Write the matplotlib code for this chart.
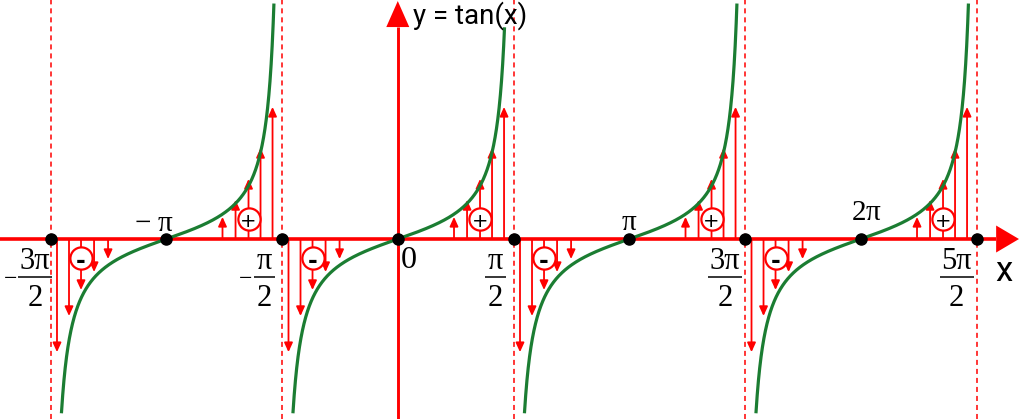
import numpy as np
import matplotlib.pyplot as plt

plt.rcParams['mathtext.fontset'] = 'custom'
plt.rcParams['mathtext.rm'] = 'Liberation Serif'
plt.rcParams['mathtext.it'] = 'Liberation Serif:italic'
plt.rcParams['mathtext.bf'] = 'Liberation Serif:bold'

# data (x in multiples of pi, arrow offsets in rad from the branch centre)
asymptotes = [-1.5, -0.5, 0.5, 1.5, 2.5]
zeros = [-1, 0, 1, 2]
branch_tops = [9.0, 8.15, 9.0, 9.0]
curve_bottom = -6.7
pos_offsets = [0.763, 0.940, 1.116, 1.279, 1.442]
pos_heights = [0.85, 1.50, 2.31, 3.50, 5.08]
neg_offsets = [-1.483, -1.320, -1.157, -0.980, -0.790]
neg_heights = [-4.35, -2.96, -1.96, -1.27, -0.77]
frac_signs = ['−', '−', '', '', '']
frac_nums = ['3π', 'π', 'π', '3π', '5π']
frac_dens = ['2', '2', '2', '2', '2']
zero_labels = [r'$-\ \mathrm{π}$', r'$0$', r'$\mathrm{π}$', r'$2\mathrm{π}$']

RED = '#ff0000'
GREEN = '#1b7d32'
SERIF = 'Liberation Serif'

fig = plt.figure(figsize=(10.24, 4.19), dpi=100)
ax = fig.add_axes([0, 0, 1, 1])
xmin, xmax = -5.398, 8.498
ax.set_xlim(xmin, xmax)
ax.set_ylim(-6.92, 9.19)
ax.axis('off')

px = 1 / 73.69   # one pixel in x data units
py = 1 / 26.0    # one pixel in y data units

# asymptotes
for a in asymptotes:
    ax.axvline(a * np.pi, color=RED, lw=1.1, ls=(0, (3.3, 2.6)), zorder=1)

# axes with arrow heads
ax.plot([xmin, 8.12], [0, 0], color=RED, lw=2.6, solid_capstyle='butt', zorder=3)
ax.fill([8.43, 8.12, 8.12], [0, 13.5 * py, -13.5 * py], color=RED, lw=0, zorder=3)
ax.plot([0, 0], [-6.92, 8.15], color=RED, lw=2.1, solid_capstyle='butt', zorder=3)
ax.fill([0, -11.5 * px, 11.5 * px], [9.15, 8.15, 8.15], color=RED, lw=0, zorder=3)

# small arrows
astyle = dict(arrowstyle='-|>,head_length=0.55,head_width=0.25', color=RED,
              lw=1.3, mutation_scale=10, shrinkA=0, shrinkB=0)
for c in zeros:
    for off, h in zip(pos_offsets + neg_offsets, pos_heights + neg_heights):
        x = c * np.pi + off
        ax.annotate('', xy=(x, h), xytext=(x, 0), arrowprops=astyle, zorder=2)

# tan branches
for c, top in zip(zeros, branch_tops):
    xs = np.linspace(c * np.pi - 1.55, c * np.pi + 1.55, 2000)
    ys = np.tan(xs)
    ys = np.where((ys > top) | (ys < curve_bottom), np.nan, ys)
    ax.plot(xs, ys, color=GREEN, lw=2.3, zorder=4)

# sign circles
for c in zeros:
    xp = c * np.pi + pos_offsets[2]
    xn = c * np.pi + neg_offsets[2]
    ax.plot([xp, xn], [20 * py, -19 * py], 'o', ms=16, mfc='white', mec=RED,
            mew=1.6, zorder=5)
    ax.text(xp, 20 * py, '+', ha='center', va='center_baseline', fontsize=14,
            color='black', zorder=6)
    ax.text(xn, -19 * py, '-', ha='center', va='center_baseline', fontsize=17,
            fontweight='bold', color='black', zorder=6)

# dots
dots = sorted(asymptotes + zeros)
ax.plot(np.array(dots) * np.pi, np.zeros(len(dots)), 'o', color='black', ms=8, zorder=7)

# fraction labels at the asymptotes
for a, sg, num, den in zip(asymptotes, frac_signs, frac_nums, frac_dens):
    wide = len(num) > 1
    xc = a * np.pi - (20 if wide else 18) * px
    half = (17 if wide else 10.5) * px
    if sg:
        xc = max(xc, xmin + 18 * px + half)
        ax.text(xc - half - 1 * px, -38 * py, sg, family=SERIF, fontsize=17,
                ha='right', va='center_baseline', zorder=9)
    ax.text(xc, -30 * py, num, family=SERIF, fontsize=22, ha='center',
            va='baseline', zorder=8)
    ax.plot([xc - half, xc + half], [-38 * py, -38 * py], color='black',
            lw=1.1, solid_capstyle='butt', zorder=8)
    ax.text(xc, -67 * py, den, family=SERIF, fontsize=22, ha='center',
            va='baseline', zorder=8)

zero_place = [(7 * px, 8 * py, 'right'), (2 * px, -29 * py, 'left'),
              (0, 9 * py, 'center'), (6 * px, 19 * py, 'center')]
for c, lab, (dx, dy, ha) in zip(zeros, zero_labels, zero_place):
    size = 23 if c == 0 else 21
    ax.text(c * np.pi + dx, dy, lab, ha=ha, va='baseline', fontsize=size, zorder=8)

ax.text(15 * px, 215 * py, 'y = tan(x)', family='Roboto', fontsize=20,
        ha='left', va='baseline', zorder=8)
ax.text(8.23, -42 * py, 'x', family='Roboto', fontsize=25, ha='center',
        va='baseline', zorder=8)

fig.savefig('out.png', dpi=100)
